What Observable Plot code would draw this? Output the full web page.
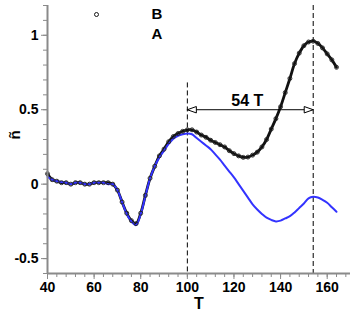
<!DOCTYPE html>
<html><head><meta charset="utf-8">
<script src="https://cdn.jsdelivr.net/npm/d3@7"></script>
<script src="https://cdn.jsdelivr.net/npm/@observablehq/plot@0.6"></script>
<style>html,body{margin:0;padding:0;background:#fff} #chart svg{display:block}</style>
</head><body><div id="chart"></div>
<script>
const T = [40,42,44,46,48,50,52,54,56,58,60,62,64,66,68,70,72,74,76,78,80,82,84,86,88,90,92,94,96,98,100,102,104,106,108,110,112,114,116,118,120,122,124,126,128,130,132,134,136,138,140,142,144,146,148,150,152,154,156,158,160,162,164];
const seriesB = [0.07,0.03,0.02,0.01,0.01,0.0,0.01,0.01,0.0,0.0,0.01,0.01,0.01,0.01,0.0,-0.04,-0.12,-0.195,-0.245,-0.265,-0.195,-0.075,0.04,0.12,0.19,0.235,0.285,0.32,0.34,0.355,0.365,0.365,0.35,0.33,0.315,0.295,0.28,0.265,0.25,0.225,0.205,0.19,0.18,0.182,0.195,0.215,0.25,0.3,0.37,0.44,0.52,0.615,0.71,0.81,0.88,0.93,0.955,0.96,0.945,0.915,0.875,0.835,0.785];
const seriesA = [0.05,0.03,0.02,0.015,0.01,0.0,0.01,0.01,0.0,0.0,0.01,0.01,0.01,0.0,0.0,-0.04,-0.12,-0.2,-0.25,-0.275,-0.2,-0.08,0.04,0.12,0.18,0.225,0.27,0.305,0.325,0.335,0.34,0.335,0.31,0.285,0.26,0.235,0.2,0.165,0.125,0.085,0.045,0.0,-0.045,-0.09,-0.135,-0.17,-0.2,-0.225,-0.24,-0.25,-0.245,-0.23,-0.215,-0.19,-0.16,-0.13,-0.095,-0.085,-0.09,-0.105,-0.125,-0.155,-0.185];
const xMajorTicks = [40,60,80,100,120,140,160];
const xMinorTicks = [40,44,48,52,56,60,64,68,72,76,80,84,88,92,96,100,104,108,112,116,120,124,128,132,136,140,144,148,152,156,160,164,168];
const yMajorTicks = [-0.5,0,0.5,1];
const yMinorTicks = [-0.6,-0.5,-0.4,-0.3,-0.2,-0.1,0,0.1,0.2,0.3,0.4,0.5,0.6,0.7,0.8,0.9,1.0,1.1,1.2];
const markerLines = [{T:100, from:0.68, to:-0.6},{T:154, from:1.2, to:-0.6}];
const period = [{start:100, end:154, level:0.5, label:"54 T"}];
const legendNames = ["B","A"];
const xLabel = "T";
const yLabel = "ñ";

const dataB = T.map((t,i)=>({T:t, n:seriesB[i]}));
const dataA = T.map((t,i)=>({T:t, n:seriesA[i]}));
const heads = [{T:period[0].start, y:period[0].level, rot:180},{T:period[0].end, y:period[0].level, rot:0}];
const arrowHead = {draw(ctx){ ctx.moveTo(0,0); ctx.lineTo(-9,-3.2); ctx.lineTo(-9,3.2); ctx.closePath(); }};
const axisGray = "#8a8a8a";

const chart = Plot.plot({
  width:357, height:313, marginLeft:47, marginRight:7, marginTop:5, marginBottom:40,
  x:{domain:[40,170]}, y:{domain:[-0.6,1.2]},
  style:{fontFamily:"'Liberation Sans', Arial, sans-serif", fontWeight:"bold", fontSize:"14px", color:"black", background:"white"},
  marks:[
    Plot.axisX({ticks:xMinorTicks, tickSize:4, tickFormat:()=>"", stroke:axisGray, label:null}),
    Plot.axisX({ticks:xMajorTicks, tickSize:6, tickPadding:3, tickFormat:d=>String(d), stroke:axisGray, fill:"black", fontSize:14, fontWeight:"bold", label:null}),
    Plot.axisY({ticks:yMinorTicks, tickSize:4, tickFormat:()=>"", stroke:axisGray, label:null}),
    Plot.axisY({ticks:yMajorTicks, tickSize:6, tickPadding:3, tickFormat:d=>String(d), stroke:axisGray, fill:"black", fontSize:14, fontWeight:"bold", label:null}),
    Plot.ruleX(markerLines, {x:"T", y1:"from", y2:"to", stroke:"black", strokeWidth:1, strokeDasharray:"5,3"}),
    Plot.line(dataB, {x:"T", y:"n", stroke:"#111", strokeWidth:2.8, curve:"catmull-rom"}),
    Plot.line(dataA, {x:"T", y:"n", stroke:"#3333ff", strokeWidth:2, curve:"catmull-rom"}),
    Plot.dot(dataB, {x:"T", y:"n", r:2, stroke:"#222", fill:"none", strokeWidth:0.9}),
    Plot.ruleY(period, {y:"level", x1:"start", x2:"end", stroke:"black", strokeWidth:1}),
    Plot.dot(heads, {x:"T", y:"y", symbol:arrowHead, rotate:"rot", r:4, stroke:"black", fill:"white", strokeWidth:1}),
    Plot.text(period, {x:d=>(d.start+d.end)/2, y:"level", text:"label", dx:-3, dy:-4, lineAnchor:"bottom", fontSize:16, fontWeight:"bold", fill:"black"}),
    Plot.ruleX([40], {stroke:axisGray, strokeWidth:2}),
    Plot.ruleY([-0.6], {stroke:axisGray, strokeWidth:2}),
    Plot.dot([legendNames[0]], {frameAnchor:"top-left", dx:49, dy:9, r:2, stroke:"black", fill:"white", strokeWidth:0.9}),
    Plot.text([legendNames[0]], {frameAnchor:"top-left", dx:104, dy:3, lineAnchor:"top", fontSize:15, fontWeight:"bold", fill:"black"}),
    Plot.text([legendNames[1]], {frameAnchor:"top-left", dx:104, dy:23, lineAnchor:"top", fontSize:15, fontWeight:"bold", fill:"black"}),
    Plot.text([yLabel], {frameAnchor:"left", dx:-32, rotate:-90, fontSize:15, fontWeight:"bold", fill:"black"}),
    Plot.text([xLabel], {frameAnchor:"bottom", dy:24, lineAnchor:"top", fontSize:16, fontWeight:"bold", fill:"black"})
  ]
});
document.getElementById("chart").appendChild(chart);
</script>
</body></html>
